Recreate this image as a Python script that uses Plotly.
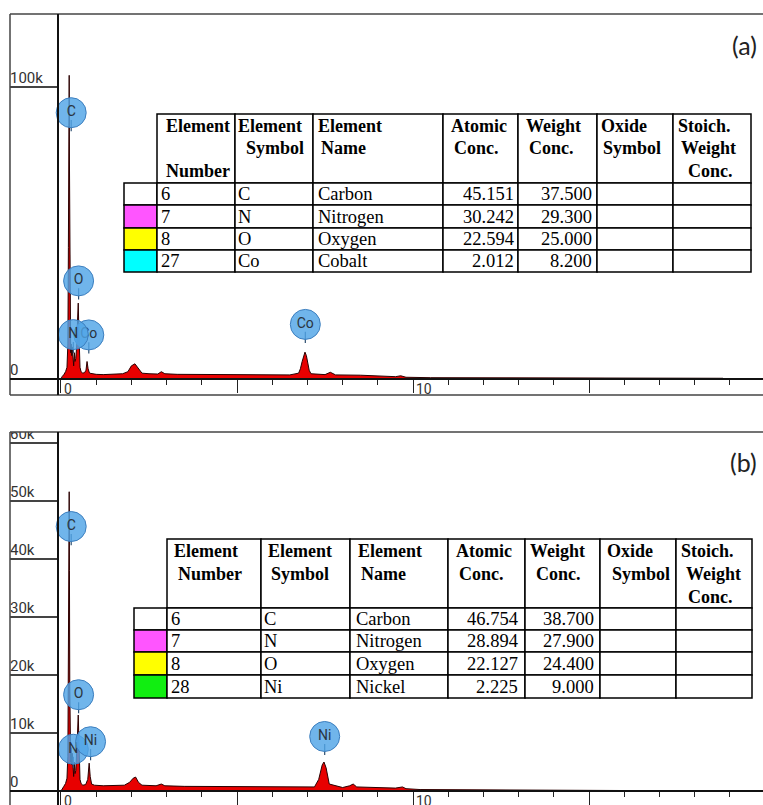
import plotly.graph_objects as go

W, H = 763, 805

# ---------------- spectrum data (keV, counts) ----------------
energy_a = [0.00, 0.03, 0.08, 0.13, 0.17, 0.195, 0.21, 0.22, 0.227, 0.233, 0.24, 0.25, 0.26, 0.275,
            0.29, 0.305, 0.32, 0.34, 0.36, 0.38, 0.40, 0.42, 0.45, 0.47, 0.49, 0.505, 0.52, 0.54,
            0.57, 0.62, 0.67, 0.71, 0.74, 0.77, 0.81, 0.9, 1.0, 1.2, 1.5, 1.75, 1.9, 2.0, 2.1, 2.2,
            2.3, 2.5, 2.75, 2.85, 2.95, 3.3, 4.0, 4.8, 5.5, 6.5, 6.75, 6.8, 6.85, 6.89, 6.93, 6.97,
            7.0, 7.05, 7.1, 7.5, 7.65, 7.8, 8.5, 9.2, 9.5, 9.65, 9.8, 10.5, 12.0, 14.0, 16.0, 18.0,
            18.8, 18.85]
counts_a = [0, 800, 1500, 2500, 4000, 12000, 45000, 61000, 90000, 104000, 75000, 35000, 15000, 9000,
            12000, 8000, 11000, 6000, 4500, 9000, 6000, 7000, 12000, 20000, 26000, 18000, 8000, 4000,
            2500, 2000, 2200, 3000, 6000, 3500, 2000, 1700, 1600, 1500, 1700, 1800, 2500, 4500, 5200, 3500,
            2000, 1800, 1700, 2500, 1800, 1600, 1500, 1500, 1400, 1400, 2000, 3500, 6000, 8000, 9200, 8000,
            6000, 3000, 1800, 1500, 2300, 1400, 1300, 1000, 800, 1100, 600, 450, 400, 350, 320, 300,
            250, 0]

energy_b = [0.00, 0.03, 0.08, 0.13, 0.17, 0.195, 0.21, 0.22, 0.227, 0.233, 0.24, 0.25, 0.26, 0.275,
            0.29, 0.305, 0.32, 0.34, 0.36, 0.38, 0.40, 0.42, 0.45, 0.47, 0.49, 0.505, 0.52, 0.54,
            0.57, 0.62, 0.70, 0.76, 0.80, 0.83, 0.87, 0.95, 1.2, 1.5, 1.8, 1.95, 2.05, 2.12, 2.2,
            2.3, 2.7, 2.85, 2.95, 3.5, 4.5, 5.5, 6.5, 7.2, 7.32, 7.42, 7.47, 7.53, 7.62, 8.0, 8.2,
            8.3, 8.4, 9.0, 9.5, 9.7, 9.8, 10.2, 12.0, 15.0, 18.0, 18.8, 18.85]
counts_b = [0, 400, 800, 1300, 2200, 6000, 22000, 30700, 45000, 51600, 38000, 18000, 8000, 5000,
            7500, 4500, 6500, 3500, 2500, 5000, 3000, 3500, 6500, 10000, 13100, 9000, 4000, 2000,
            1300, 1000, 1100, 2000, 4800, 2500, 1200, 1000, 900, 900, 1000, 1500, 2200, 2400, 1500,
            1000, 900, 1200, 900, 800, 750, 700, 650, 700, 2000, 4500, 5000, 4000, 1200, 600, 900,
            1200, 700, 550, 500, 700, 400, 250, 200, 180, 150, 120, 0]

# ---------------- peak identification labels ----------------
peaks_a_label = ["Co", "C", "O", "Co", "N"]
peaks_a_x = [6.94, 0.29, 0.50, 0.79, 0.35]
peaks_a_y = [18700, 91200, 33600, 15100, 15200]

peaks_b_label = ["Ni", "C", "O", "N", "Ni"]
peaks_b_x = [7.49, 0.29, 0.50, 0.35, 0.84]
peaks_b_y = [9400, 45600, 16600, 7200, 8500]

# ---------------- axis ticks ----------------
ytick_a_vals = [0, 100000]
ytick_a_text = ["0", "100k"]
ytick_b_vals = [0, 10000, 20000, 30000, 40000, 50000, 60000]
ytick_b_text = ["0", "10k", "20k", "30k", "40k", "50k", "60k"]
xtick_label_vals = [0, 10]
xtick_label_text = ["0", "10"]

# ---------------- tables ----------------
table_headers_a = [["Element", "", "Number"], ["Element", "Symbol"], ["Element", "Name"],
                   ["Atomic", "Conc."], ["Weight", "Conc."], ["Oxide", "Symbol"],
                   ["Stoich.", "Weight", "Conc."]]
elem_num_a = ["6", "7", "8", "27"]
elem_sym_a = ["C", "N", "O", "Co"]
elem_name_a = ["Carbon", "Nitrogen", "Oxygen", "Cobalt"]
atomic_a = ["45.151", "30.242", "22.594", "2.012"]
weight_a = ["37.500", "29.300", "25.000", "8.200"]
swatch_a = ["#ffffff", "#ff55ff", "#ffff00", "#00ffff"]

table_headers_b = [["Element", "Number"], ["Element", "Symbol"], ["Element", "Name"],
                   ["Atomic", "Conc."], ["Weight", "Conc."], ["Oxide", "Symbol"],
                   ["Stoich.", "Weight", "Conc."]]
elem_num_b = ["6", "7", "8", "28"]
elem_sym_b = ["C", "N", "O", "Ni"]
elem_name_b = ["Carbon", "Nitrogen", "Oxygen", "Nickel"]
atomic_b = ["46.754", "28.894", "22.127", "2.225"]
weight_b = ["38.700", "27.900", "24.400", "9.000"]
swatch_b = ["#ffffff", "#ff55ff", "#ffff00", "#11ee11"]

# ---------------- layout geometry (pixels) ----------------
def PX(x):
    return x / W


def PY(y):
    return 1 - y / H


range_x = [-0.085, 19.94]
range_y_a = [0, 125000]
range_y_b = [0, 61900]
dom_y_a = [PY(379), PY(14)]
dom_y_b = [PY(791), PY(432)]
dom_x_plot = [PX(58), 1]
dom_x_lab = [PX(10), PX(58)]

fig = go.Figure()

spec_style = dict(mode="lines", fill="tozeroy", fillcolor="#e80000",
                  line=dict(color="#2a0000", width=1), hoverinfo="skip", showlegend=False)
fig.add_trace(go.Scatter(x=energy_a, y=counts_a, xaxis="x", yaxis="y", **spec_style))
fig.add_trace(go.Scatter(x=energy_b, y=counts_b, xaxis="x2", yaxis="y2", **spec_style))

# peak label circles
cpp_a = (range_y_a[1] - range_y_a[0]) / (379 - 14)
cpp_b = (range_y_b[1] - range_y_b[0]) / (791 - 432)
for lab, px_, py_, ax, cpp in [(peaks_a_label, peaks_a_x, peaks_a_y, ("x", "y"), cpp_a),
                               (peaks_b_label, peaks_b_x, peaks_b_y, ("x2", "y2"), cpp_b)]:
    fig.add_trace(go.Scatter(
        x=px_, y=[v - 13 * cpp for v in py_], xaxis=ax[0], yaxis=ax[1], mode="markers",
        marker=dict(symbol="line-ns", size=8, line=dict(color="#2c4e70", width=1.2)),
        hoverinfo="skip", showlegend=False, cliponaxis=False))
    for i in range(len(lab)):
        fig.add_trace(go.Scatter(
            x=[px_[i]], y=[py_[i]], xaxis=ax[0], yaxis=ax[1], mode="markers+text",
            text=[lab[i]], textposition="middle center",
            textfont=dict(family="Roboto", size=14, color="#2a3440"),
            marker=dict(size=30, color="rgba(80,165,230,0.82)", line=dict(color="#3d7fbf", width=1)),
            hoverinfo="skip", showlegend=False, cliponaxis=False))

# y-axis label columns
for vals, txt, ax in [(ytick_a_vals, ytick_a_text, ("x3", "y3")),
                      (ytick_b_vals, ytick_b_text, ("x4", "y4"))]:
    fig.add_trace(go.Scatter(
        x=[0.0] * len(vals), y=vals, text=txt, mode="text", textposition="top right",
        textfont=dict(family="Roboto", size=15, color="#333333"),
        xaxis=ax[0], yaxis=ax[1], cliponaxis=True, hoverinfo="skip", showlegend=False))

xaxis_common = dict(range=range_x, domain=dom_x_plot, tick0=0, dtick=5, ticks="outside",
                    ticklen=13, tickwidth=1, tickcolor="#222", showticklabels=False,
                    showgrid=False, zeroline=False, showline=False, fixedrange=True,
                    minor=dict(dtick=1, tick0=0, ticks="outside", ticklen=5, tickwidth=1,
                               tickcolor="#222", showgrid=False))
yaxis_common = dict(showgrid=False, showticklabels=False, zeroline=False, showline=False,
                    ticks="", fixedrange=True)
lab_x = dict(domain=dom_x_lab, range=[0, 1], visible=False, fixedrange=True)
lab_y = dict(showgrid=True, gridcolor="#444444", gridwidth=1.5, showticklabels=False,
             zeroline=False, showline=False, ticks="", fixedrange=True, tickmode="array")

fig.update_layout(
    width=W, height=H, autosize=False, margin=dict(l=0, r=0, t=0, b=0),
    paper_bgcolor="white", plot_bgcolor="rgba(0,0,0,0)", showlegend=False,
    xaxis=dict(anchor="y", **xaxis_common),
    yaxis=dict(anchor="x", domain=dom_y_a, range=range_y_a, **yaxis_common),
    xaxis2=dict(anchor="y2", **xaxis_common),
    yaxis2=dict(anchor="x2", domain=dom_y_b, range=range_y_b, **yaxis_common),
    xaxis3=dict(anchor="y3", **lab_x),
    yaxis3=dict(anchor="x3", domain=dom_y_a, range=range_y_a, tickvals=ytick_a_vals, **lab_y),
    xaxis4=dict(anchor="y4", **lab_x),
    yaxis4=dict(anchor="x4", domain=dom_y_b, range=range_y_b, tickvals=ytick_b_vals, **lab_y),
)

shapes = []
annots = []


def line(x0, y0, x1, y1, color="#444444", width=1.5):
    shapes.append(dict(type="line", xref="paper", yref="paper", x0=PX(x0), y0=PY(y0),
                       x1=PX(x1), y1=PY(y1), line=dict(color=color, width=width)))


# frame of panel (a)
line(10, 14, 770, 14)
line(10, 14, 10, 395)
line(10, 395, 770, 395)
line(58, 14, 58, 395, "#111111", 2)
line(10, 379, 770, 379, "#111111", 2)
# frame of panel (b)
line(10, 432, 770, 432)
line(10, 432, 10, 815)
line(58, 432, 58, 815, "#111111", 2)
line(10, 791, 770, 791, "#111111", 2)

# x tick labels (placed right of the tick, below baseline)
for xr, base in [("x", 380), ("x2", 792)]:
    for v, t in zip(xtick_label_vals, xtick_label_text):
        annots.append(dict(x=v, y=PY(base), xref=xr, yref="paper", text=t, showarrow=False,
                           xanchor="left", yanchor="top", xshift=2, borderpad=0,
                           font=dict(family="Roboto", size=14, color="#333333")))

# panel letters
annots.append(dict(x=PX(759), y=PY(45), xref="paper", yref="paper", text="(a)", showarrow=False,
                   xanchor="right", yanchor="middle", font=dict(family="Lato", size=25, color="#222")))
annots.append(dict(x=PX(759), y=PY(462), xref="paper", yref="paper", text="(b)", showarrow=False,
                   xanchor="right", yanchor="middle", font=dict(family="Lato", size=25, color="#222")))


def draw_table(col_edges, row_edges, headers, head_off, line_pitch, cols, swatch, pads):
    # header row (no swatch column)
    for c in range(1, len(col_edges) - 1):
        shapes.append(dict(type="rect", xref="paper", yref="paper",
                           x0=PX(col_edges[c]), x1=PX(col_edges[c + 1]),
                           y0=PY(row_edges[1]), y1=PY(row_edges[0]),
                           line=dict(color="black", width=1.5), fillcolor="white", layer="above"))
        for li, txt in enumerate(headers[c - 1]):
            if not txt:
                continue
            annots.append(dict(x=PX(col_edges[c] + head_off[c - 1][li]),
                               y=PY(row_edges[0] + 12 + li * line_pitch),
                               xref="paper", yref="paper", text=txt, showarrow=False,
                               xanchor="left", yanchor="middle", borderpad=0,
                               font=dict(family="Liberation Serif", size=18, color="black",
                                         weight="bold")))
    # data rows
    nrows = len(row_edges) - 2
    for r in range(nrows):
        y0, y1 = row_edges[r + 1], row_edges[r + 2]
        for c in range(len(col_edges) - 1):
            shapes.append(dict(type="rect", xref="paper", yref="paper",
                               x0=PX(col_edges[c]), x1=PX(col_edges[c + 1]),
                               y0=PY(y1), y1=PY(y0), line=dict(color="black", width=1.5),
                               fillcolor=swatch[r] if c == 0 else "white", layer="above"))
        for ci, (vals, align) in enumerate(cols):
            c = ci + 1
            if align == "left":
                xx, anc = col_edges[c] + pads[ci], "left"
            else:
                xx, anc = col_edges[c + 1] - pads[ci], "right"
            annots.append(dict(x=PX(xx), y=PY((y0 + y1) / 2), xref="paper", yref="paper",
                               text=vals[r], showarrow=False, xanchor=anc, yanchor="middle",
                               borderpad=0,
                               font=dict(family="Liberation Serif", size=18.5, color="black")))


col_edges_a = [124, 157, 235, 313, 443, 518, 597, 673, 751]
row_edges_a = [114, 183, 205, 228, 250, 272]
head_off_a = [[8, 0, 8], [2, 10], [4, 7], [7, 10], [7, 10], [3, 5], [4, 7, 14]]
draw_table(col_edges_a, row_edges_a, table_headers_a, head_off_a, 22.5,
           [(elem_num_a, "left"), (elem_sym_a, "left"), (elem_name_a, "left"),
            (atomic_a, "right"), (weight_a, "right")], swatch_a, [3, 2, 4, 3, 4])

col_edges_b = [134, 167, 261, 350, 448, 525, 600, 676, 752]
row_edges_b = [539, 608, 630, 652, 675, 698]
head_off_b = [[6, 10], [6, 9], [7, 10], [7, 10], [4, 10], [6, 11], [4, 9, 11]]
draw_table(col_edges_b, row_edges_b, table_headers_b, head_off_b, 23,
           [(elem_num_b, "left"), (elem_sym_b, "left"), (elem_name_b, "left"),
            (atomic_b, "right"), (weight_b, "right")], swatch_b, [3, 2, 5, 6, 5])

fig.update_layout(shapes=shapes, annotations=annots)
fig.write_html("out.html")
